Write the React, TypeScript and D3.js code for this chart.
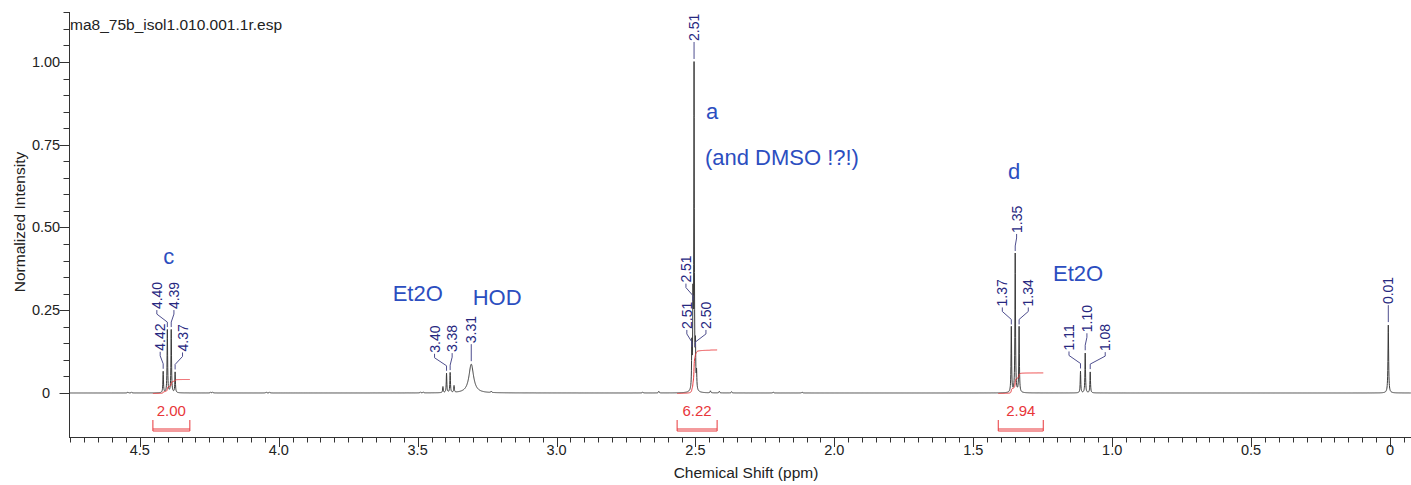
import { useRef, useEffect } from "react";
import * as d3 from "d3";

const TITLE = "ma8_75b_isol1.010.001.1r.esp";
const X_TITLE = "Chemical Shift (ppm)";
const Y_TITLE = "Normalized Intensity";

// peak lines: [ppm, normalized height]
const QUARTET_C = [[4.416, 0.064], [4.401, 0.19], [4.387, 0.19], [4.373, 0.062]];
const ETHER_CH2 = [[3.409, 0.018], [3.396, 0.058], [3.383, 0.06], [3.369, 0.02]];
const HOD = [[3.307, 0.087]];
const DMSO = [[2.513, 0.13], [2.509, 0.25], [2.505, 0.975], [2.5, 0.12], [2.496, 0.05]];
const TRIPLET_D = [[1.363, 0.198], [1.349, 0.42], [1.335, 0.198]];
const ETHER_CH3 = [[1.114, 0.065], [1.097, 0.12], [1.079, 0.063]];
const TMS = [[0.006, 0.205]];
const SMALL_BUMPS = [
  [4.543, 0.003], [4.53, 0.003], [4.245, 0.003], [4.238, 0.003], [4.045, 0.003],
  [4.033, 0.003], [3.49, 0.003], [3.48, 0.003], [3.235, 0.004], [2.69, 0.003],
  [2.632, 0.005], [2.446, 0.006], [2.414, 0.005], [2.37, 0.004], [2.22, 0.003],
  [2.116, 0.003],
];

// integrals: [from ppm, to ppm, value]
const INTEGRALS = [[4.453, 4.32, 2.0], [2.566, 2.422, 6.22], [1.41, 1.248, 2.94]];

// picked peak labels: [text, ppm, height of the peak it points at]
const PEAK_LABELS = [
  ["4.42", 4.416, 0.064], ["4.40", 4.401, 0.19], ["4.39", 4.387, 0.19], ["4.37", 4.373, 0.062],
  ["3.40", 3.396, 0.058], ["3.38", 3.383, 0.06], ["3.31", 3.307, 0.087],
  ["2.51", 2.513, 0.13], ["2.51", 2.509, 0.27], ["2.51", 2.505, 1.0], ["2.50", 2.5, 0.13],
  ["1.37", 1.363, 0.198], ["1.35", 1.349, 0.42], ["1.34", 1.335, 0.198],
  ["1.11", 1.114, 0.065], ["1.10", 1.097, 0.12], ["1.08", 1.079, 0.063],
  ["0.01", 0.006, 0.205],
];

// free text annotations: [text, ppm, intensity]
const NOTES = [
  ["c", 4.416, 0.39], ["Et2O", 3.59, 0.279], ["HOD", 3.302, 0.266],
  ["a", 2.462, 0.828], ["(and DMSO !?!)", 2.466, 0.689],
  ["d", 1.375, 0.646], ["Et2O", 1.213, 0.339],
];

const X_TICKS = d3.range(0, 20).map((i) => 4.5 - i * 0.5).filter((v) => v >= 0);
const Y_TICKS = [0, 0.25, 0.5, 0.75, 1.0];

export default function App() {
  const ref = useRef<SVGSVGElement>(null);

  useEffect(() => {
    if (!ref.current) return;
    const svg = d3.select(ref.current);
    svg.selectAll("*").remove();

    const font = "'Liberation Sans', Arial, sans-serif";
    const L = 69, R = 1411, T = 12, B = 437;
    const x = d3.scaleLinear().domain([4.755, -0.075]).range([L, 1410.8]);
    const y = d3.scaleLinear().domain([-0.133, 1.151]).range([B, T]);

    // label nudges in px, same order as PEAK_LABELS (layout only)
    const nudge = [-3, -10.5, 2.7, 7.4, -12, 2, 0, -5, -7, 0, 10.5, -9, 1.4, 9.2, -11.5, 1.7, 15, 0];

    const lines = [
      ...QUARTET_C.map((p) => [...p, 0.0012]),
      ...ETHER_CH2.map((p) => [...p, 0.0012]),
      ...HOD.map((p) => [...p, 0.01]),
      ...DMSO.map((p) => [...p, 0.0011]),
      ...TRIPLET_D.map((p) => [...p, 0.0012]),
      ...ETHER_CH3.map((p) => [...p, 0.0012]),
      ...TMS.map((p) => [...p, 0.0014]),
      ...SMALL_BUMPS.map((p) => [...p, 0.0015]),
    ];
    const spec = (ppm: number) =>
      d3.sum(lines, ([c, h, w]) => h / (1 + ((ppm - c) / w) ** 2));

    const step = 0.0005;
    const grid = d3.range(4.755, -0.0755, -step);
    const pts = grid.map((p) => [p, spec(p)]);

    svg.append("rect").attr("width", 1411).attr("height", 485).attr("fill", "#fff");

    svg.append("defs").append("clipPath").attr("id", "plot")
      .append("rect").attr("x", L).attr("y", T).attr("width", R - L).attr("height", B - T);

    const plot = svg.append("g").attr("clip-path", "url(#plot)");
    plot.append("path")
      .attr("d", d3.line().x((d) => x(d[0])).y((d) => y(d[1]))(pts as any))
      .attr("fill", "none").attr("stroke", "#3a3a3a").attr("stroke-width", 1);

    // integrals
    const red = "#e8363a";
    const k = 7; // px per integral unit
    INTEGRALS.forEach(([a, b, v]) => {
      const seg = d3.range(a, b - step / 2, -step);
      const vals = seg.map(spec);
      const tot = d3.sum(vals);
      let acc = 0;
      const curve = seg.map((p, i) => {
        acc += vals[i];
        return [x(p), y(0) + 0.5 - (k * v * acc) / tot];
      });
      plot.append("path")
        .attr("d", d3.line()(curve as any))
        .attr("fill", "none").attr("stroke", red).attr("stroke-width", 1);
      const x0 = x(a), x1 = x(b);
      svg.append("path")
        .attr("d", `M${x0},420V431H${x1}V420M${x0},429H${x1}`)
        .attr("fill", "none").attr("stroke", red).attr("stroke-width", 1);
      svg.append("text")
        .attr("x", (x0 + x1) / 2).attr("y", 416)
        .attr("text-anchor", "middle").attr("font-family", font)
        .attr("font-size", 15).attr("fill", red)
        .text(v.toFixed(2));
    });

    // peak labels with leaders
    const navy = "#27287f";
    PEAK_LABELS.forEach(([t, p, h], i) => {
      const px = x(p as number);
      const pt = y(h as number);
      const lx = px + nudge[i];
      const lb = pt - 21;
      const d = Math.abs(lx - px) < 1
        ? `M${px},${lb + 1}V${pt - 3}`
        : `M${lx},${lb + 1}V${lb + 5}L${px},${pt - 8}V${pt - 3}`;
      svg.append("path").attr("d", d).attr("fill", "none")
        .attr("stroke", "#4e4e8e").attr("stroke-width", 1);
      svg.append("text")
        .attr("transform", `translate(${lx + 5},${lb}) rotate(-90)`)
        .attr("font-family", font).attr("font-size", 14).attr("fill", navy)
        .text(t as string);
    });

    // annotations
    NOTES.forEach(([t, p, v]) => {
      svg.append("text")
        .attr("x", x(p as number)).attr("y", y(v as number))
        .attr("font-family", font).attr("font-size", 22).attr("fill", "#2c4ec0")
        .text(t as string);
    });

    // axes
    const axisCol = "#333";
    const ax = svg.append("g").attr("stroke", axisCol).attr("stroke-width", 1).attr("fill", "none");
    ax.append("path").attr("d", `M${L + 0.5},${T}V${B}`);
    ax.append("path").attr("d", `M${L},${B + 0.5}H${R}`);

    d3.range(0, 97).forEach((i) => {
      const v = 4.75 - i * 0.05;
      const major = Math.abs(Math.round(v * 2) - v * 2) < 1e-6;
      const px = Math.round(x(v)) + 0.5;
      ax.append("path").attr("d", `M${px},${B}V${B + (major ? 10 : 5.5)}`);
    });
    d3.range(0, 24).forEach((i) => {
      const v = i * 0.05;
      const major = Math.abs(Math.round(v * 4) - v * 4) < 1e-6;
      const py = Math.round(y(v)) + 0.5;
      ax.append("path").attr("d", `M${major ? 59.5 : 63.5},${py}H${L}`);
    });

    svg.selectAll(".xt").data(X_TICKS).join("text")
      .attr("x", (d) => x(d)).attr("y", 455)
      .attr("text-anchor", "middle").attr("font-family", font)
      .attr("font-size", 14.5).attr("fill", "#222")
      .text((d) => (d === 0 ? "0" : d.toFixed(1)));
    svg.selectAll(".yt").data(Y_TICKS).join("text")
      .attr("x", 46).attr("y", (d) => y(d) + 5)
      .attr("text-anchor", "middle").attr("font-family", font)
      .attr("font-size", 14.5).attr("fill", "#222")
      .text((d) => (d === 0 ? "0" : d.toFixed(2)));

    svg.append("text")
      .attr("x", 746).attr("y", 477.5).attr("text-anchor", "middle")
      .attr("font-family", font).attr("font-size", 15.5).attr("fill", "#222")
      .text(X_TITLE);
    svg.append("text")
      .attr("transform", "translate(24.5,222) rotate(-90)").attr("text-anchor", "middle")
      .attr("font-family", font).attr("font-size", 15.5).attr("fill", "#222")
      .text(Y_TITLE);
    svg.append("text")
      .attr("x", 70).attr("y", 30)
      .attr("font-family", font).attr("font-size", 15.5).attr("fill", "#222")
      .text(TITLE);
  }, []);

  return (
    <svg
      ref={ref}
      width={1411}
      height={485}
      style={{ position: "absolute", left: 0, top: 0, display: "block" }}
    />
  );
}
